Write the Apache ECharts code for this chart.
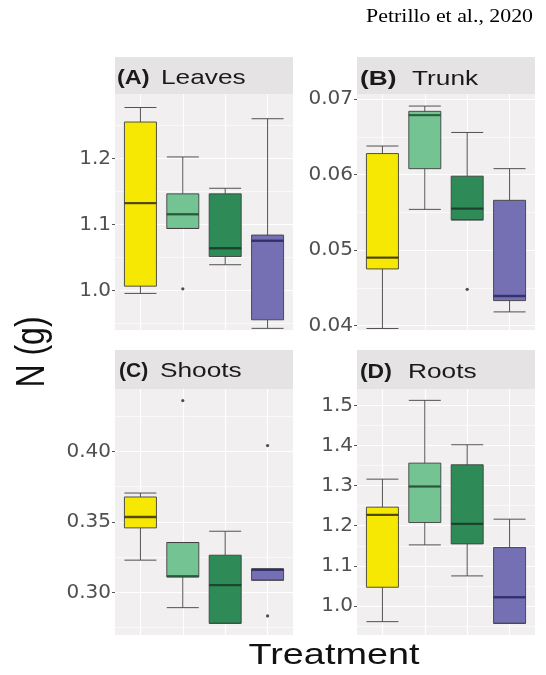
<!DOCTYPE html>
<html><head><meta charset="utf-8">
<script src="https://cdn.jsdelivr.net/npm/echarts@6/dist/echarts.min.js"></script>
<style>html,body{margin:0;padding:0;background:#fff}#c{width:546px;height:675px}</style>
</head><body><div id="c"></div>
<script>
// ---- data ----
const treatments = ['T1', 'T2', 'T3', 'T4'];
const treatmentColors = ['#F7E804', '#74C493', '#2E8B57', '#7570B3'];
const medianColors = ['#3d3600', '#24573a', '#143d25', '#2a286a'];
const panelTags = ['(A)', '(B)', '(C)', '(D)'];
const panelNames = ['Leaves', 'Trunk', 'Shoots', 'Roots'];

// [min, Q1, median, Q3, max] per treatment
const leavesBox = [
  [0.9955, 1.0065, 1.1325, 1.2555, 1.2775],
  [1.094, 1.094, 1.1155, 1.1465, 1.2025],
  [1.039, 1.0515, 1.064, 1.1465, 1.155],
  [0.9425, 0.9555, 1.0755, 1.084, 1.2605]
];
const leavesOutliers = [[2, 1.0025]];
const trunkBox = [
  [0.0396, 0.0475, 0.0490, 0.0628, 0.0638],
  [0.0554, 0.0608, 0.0679, 0.0684, 0.0691],
  [0.0540, 0.0540, 0.0555, 0.0598, 0.0656],
  [0.0418, 0.0433, 0.0439, 0.0566, 0.0608]
];
const trunkOutliers = [[3, 0.0448]];
const shootsBox = [
  [0.3229, 0.3458, 0.3535, 0.3677, 0.3705],
  [0.2892, 0.3110, 0.3115, 0.3354, 0.3354],
  [0.2781, 0.2781, 0.3052, 0.3264, 0.3434],
  [0.3087, 0.3087, 0.3160, 0.3167, 0.3167]
];
const shootsOutliers = [[2, 0.4361], [4, 0.4042], [4, 0.2833]];
const rootsBox = [
  [0.9609, 1.0466, 1.2271, 1.2463, 1.3161],
  [1.1522, 1.2080, 1.2978, 1.3560, 1.5125],
  [1.0749, 1.1547, 1.2047, 1.3519, 1.4018],
  [0.9567, 0.9567, 1.0216, 1.1456, 1.2163]
];
const rootsOutliers = [];

const leavesTicks = [1.0, 1.1, 1.2];
const leavesMinor = [0.95, 1.05, 1.15, 1.25];
const trunkTicks = [0.04, 0.05, 0.06, 0.07];
const trunkMinor = [0.045, 0.055, 0.065];
const shootsTicks = [0.30, 0.35, 0.40];
const shootsMinor = [0.275, 0.325, 0.375, 0.425];
const rootsTicks = [1.0, 1.1, 1.2, 1.3, 1.4, 1.5];
const rootsMinor = [0.95, 1.05, 1.15, 1.25, 1.35, 1.45];

const yRanges = [[0.94, 1.298], [0.0394, 0.0707], [0.2698, 0.4443], [0.9276, 1.5408]];
const tickDecimals = [1, 2, 2, 1];

// ---- layout ----
const boxes = [leavesBox, trunkBox, shootsBox, rootsBox];
const outliers = [leavesOutliers, trunkOutliers, shootsOutliers, rootsOutliers];
const majors = [leavesTicks, trunkTicks, shootsTicks, rootsTicks];
const minors = [leavesMinor, trunkMinor, shootsMinor, rootsMinor];
const grids = [
  {left: 115, top: 94, width: 178, height: 236},
  {left: 357, top: 94, width: 178, height: 236},
  {left: 115, top: 389, width: 178, height: 246},
  {left: 357, top: 389, width: 178, height: 246}
];
const strips = [{y: 57, h: 37}, {y: 57, h: 37}, {y: 350, h: 39}, {y: 350, h: 39}];
const tagX = [117, 360, 119, 360];
const tagScale = [1.12, 1.25, 1.0, 1.09];
const nameX = [161, 412, 160, 408];
const stripTextY = [78.5, 79.5, 371.5, 372];
const SX = 1.25;

const xAxes = [], yAxes = [], series = [], graphics = [];
grids.forEach((g, i) => {
  xAxes.push({
    type: 'value', gridIndex: i, min: 0.4, max: 4.6,
    axisLine: {show: false}, axisLabel: {show: false},
    axisTick: {show: false, customValues: treatments.map((t, k) => k + 1)},
    splitLine: {show: true, lineStyle: {color: '#ffffff', width: 1.2}}
  });
  const dec = tickDecimals[i];
  yAxes.push({
    type: 'value', gridIndex: i, min: yRanges[i][0], max: yRanges[i][1], position: 'left',
    axisLine: {show: false},
    axisTick: {show: true, length: 3, customValues: majors[i], lineStyle: {color: '#555', width: 1}},
    axisLabel: {customValues: majors[i], formatter: v => Number(v).toFixed(dec),
      fontFamily: 'DejaVu Sans', fontSize: 20, color: '#505050', margin: 4},
    splitLine: {show: true, lineStyle: {color: '#ffffff', width: 1.2}}
  });
  yAxes.push({
    type: 'value', gridIndex: i, min: yRanges[i][0], max: yRanges[i][1], position: 'left',
    axisLine: {show: false}, axisLabel: {show: false},
    axisTick: {show: false, customValues: minors[i]},
    splitLine: {show: true, lineStyle: {color: '#ffffff', width: 0.6}}
  });
  series.push({
    type: 'boxplot', layout: 'horizontal', xAxisIndex: i, yAxisIndex: 2 * i,
    boxWidth: [32, 32], silent: true,
    data: boxes[i].map((b, k) => ({
      value: [k + 1].concat(b),
      itemStyle: {color: treatmentColors[k], borderColor: '#404040', borderWidth: 0.9}
    }))
  });
  series.push({
    type: 'scatter', xAxisIndex: i, yAxisIndex: 2 * i, symbol: 'rect', symbolSize: [32, 2.4],
    silent: true, z: 3,
    data: boxes[i].map((b, k) => ({value: [k + 1, b[2]], itemStyle: {color: medianColors[k]}}))
  });
  series.push({
    type: 'scatter', xAxisIndex: i, yAxisIndex: 2 * i, symbol: 'circle', symbolSize: 3.2,
    silent: true, z: 4, itemStyle: {color: '#222'},
    data: outliers[i]
  });
  graphics.push({type: 'rect', shape: {x: g.left, y: strips[i].y, width: g.width, height: strips[i].h},
    style: {fill: '#E5E3E3'}, silent: true});
  graphics.push({type: 'text', x: tagX[i], y: stripTextY[i], scaleX: tagScale[i], silent: true,
    style: {text: panelTags[i], fontFamily: 'Liberation Sans', fontSize: 21, fontWeight: 'bold',
      fill: '#1a1a1a', align: 'left', verticalAlign: 'middle'}});
  graphics.push({type: 'text', x: nameX[i], y: stripTextY[i], scaleX: SX, silent: true,
    style: {text: panelNames[i], fontFamily: 'Liberation Sans', fontSize: 21,
      fill: '#1a1a1a', align: 'left', verticalAlign: 'middle'}});
});

graphics.push({type: 'text', x: 334, y: 656, scaleX: 1.26, silent: true,
  style: {text: 'Treatment', fontFamily: 'Liberation Sans', fontSize: 30, fill: '#111',
    align: 'center', verticalAlign: 'middle'}});
graphics.push({type: 'text', x: 33, y: 352, rotation: Math.PI / 2, scaleY: 1.26, silent: true,
  style: {text: 'N (g)', fontFamily: 'Liberation Sans', fontSize: 32, fill: '#111',
    align: 'center', verticalAlign: 'middle'}});
graphics.push({type: 'text', x: 533, y: 17, scaleX: 1.15, silent: true,
  style: {text: 'Petrillo et al., 2020', fontFamily: 'Liberation Serif', fontSize: 19, fill: '#000',
    align: 'right', verticalAlign: 'middle'}});

const chart = echarts.init(document.getElementById('c'), null, {renderer: 'canvas'});
chart.setOption({
  animation: false,
  backgroundColor: '#ffffff',
  grid: grids.map(g => Object.assign({show: true, backgroundColor: '#F1EFEF', borderWidth: 0,
    containLabel: false, outerBoundsMode: 'none'}, g)),
  xAxis: xAxes,
  yAxis: yAxes,
  series: series,
  graphic: {elements: graphics}
});
</script></body></html>
